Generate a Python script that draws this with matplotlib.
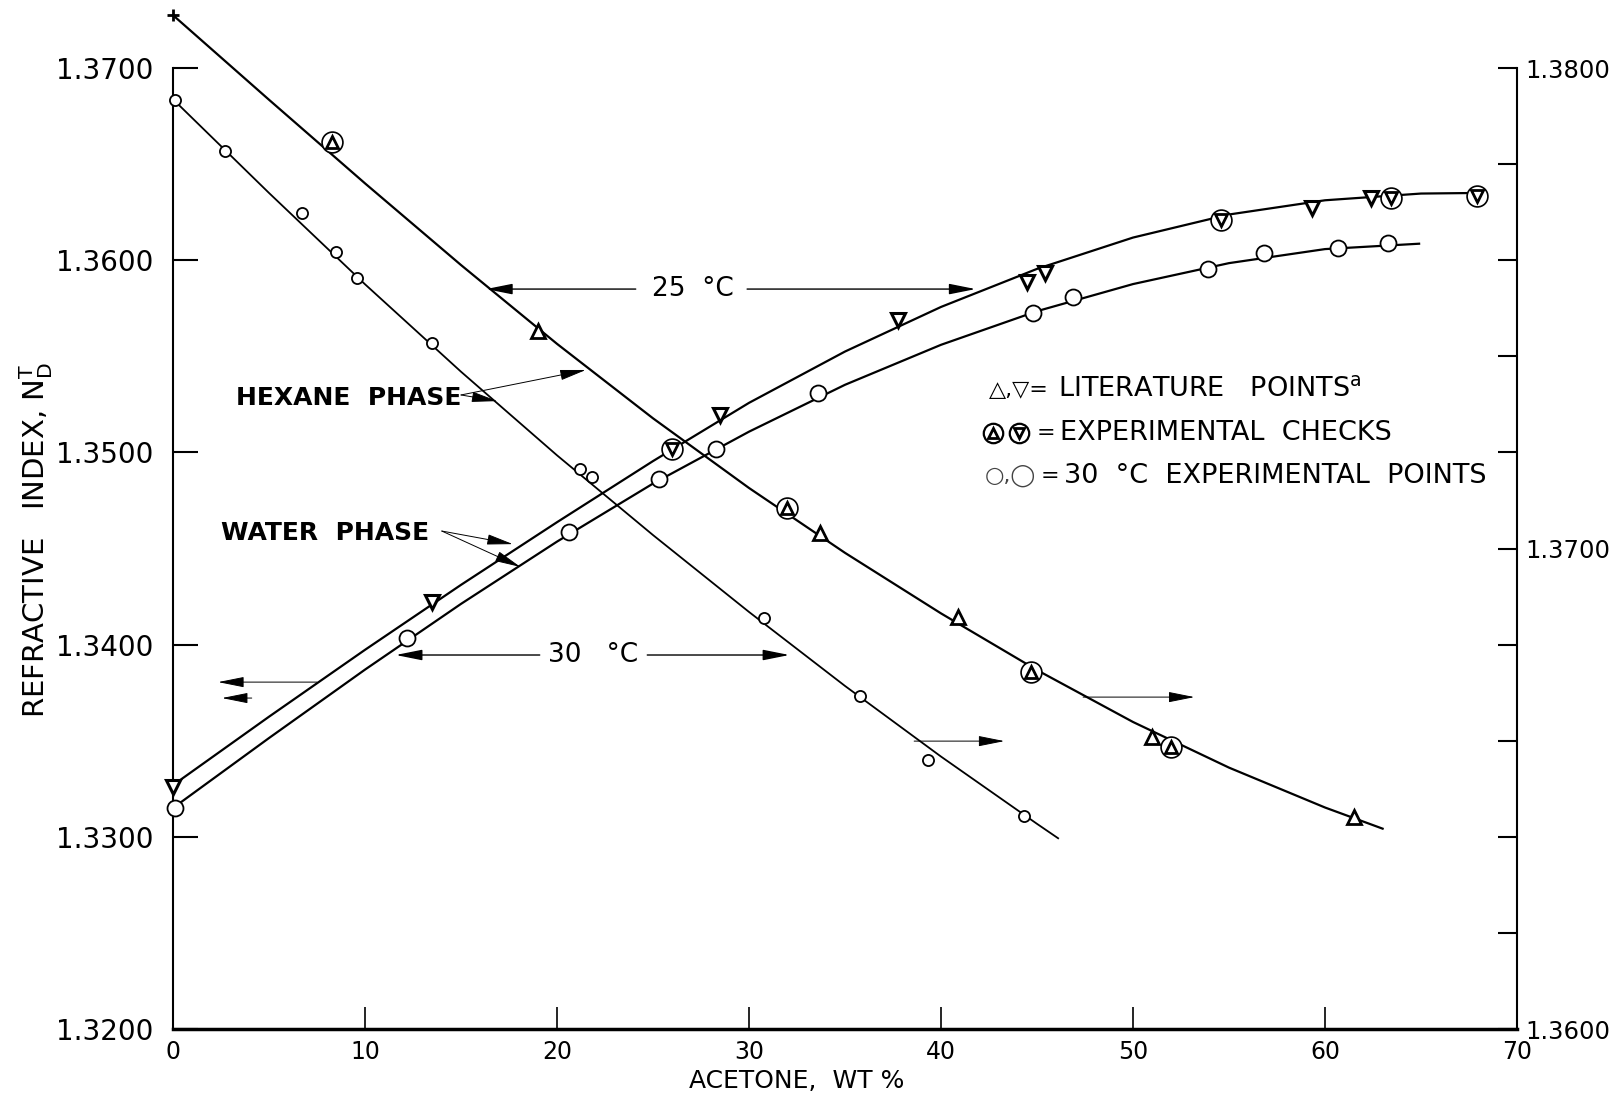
import matplotlib.pyplot as plt
from matplotlib.ticker import FormatStrFormatter, MultipleLocator

plt.rcParams['font.family'] = ['DejaVu Sans']

# Hexane phase, 25 C (right scale): smooth curve, literature points, checks
hex25_curve_x = [0, 5, 10, 15, 20, 25, 30, 35, 40, 45, 50, 55, 60, 63]
hex25_curve_n = [1.38110, 1.37934, 1.37760, 1.37590, 1.37426, 1.37271, 1.37126,
                 1.36991, 1.36865, 1.36747, 1.36639, 1.36544, 1.36461, 1.36417]
hex25_lit_x = [19.0, 33.7, 40.9, 51.0, 61.5]
hex25_lit_n = [1.37453, 1.37032, 1.36857, 1.36608, 1.36441]
hex25_chk_x = [8.3, 32.0, 44.7, 52.0]
hex25_chk_n = [1.37846, 1.37084, 1.36743, 1.36587]

# Hexane phase, 30 C (right scale)
hex30_curve_x = [0, 5, 10, 15, 20, 25, 30, 35, 40, 45, 46.1]
hex30_curve_n = [1.37935, 1.37740, 1.37550, 1.37368, 1.37194, 1.37028, 1.36868,
                 1.36714, 1.36567, 1.36427, 1.36397]
hex30_exp_x = [0.1, 2.7, 6.7, 8.5, 9.6, 13.5, 21.2, 21.8, 30.8, 35.8, 39.3, 44.3]
hex30_exp_n = [1.37933, 1.37827, 1.37698, 1.37617, 1.37563, 1.37428, 1.37165,
               1.37149, 1.36855, 1.36693, 1.36560, 1.36443]

# Water phase, 25 C (left scale)
wat25_curve_x = [0, 5, 10, 15, 20, 25, 30, 35, 40, 45, 50, 55, 60, 65, 67.9]
wat25_curve_n = [1.33269, 1.33625, 1.33973, 1.34311, 1.34637, 1.34955, 1.35258,
                 1.35525, 1.35757, 1.35955, 1.36118, 1.36238, 1.36312, 1.36347, 1.36350]
wat25_lit_x = [0, 13.5, 28.5, 37.75, 44.5, 45.4, 59.3, 62.4]
wat25_lit_n = [1.33259, 1.34222, 1.35195, 1.35689, 1.35887, 1.35933, 1.36272, 1.36324]
wat25_chk_x = [26.0, 54.6, 63.45, 67.9]
wat25_chk_n = [1.35018, 1.36209, 1.36324, 1.36334]

# Water phase, 30 C (left scale)
wat30_curve_x = [0, 5, 10, 15, 20, 25, 30, 35, 40, 45, 50, 55, 60, 64.9]
wat30_curve_n = [1.33150, 1.33514, 1.33870, 1.34212, 1.34536, 1.34838, 1.35108,
                 1.35352, 1.35560, 1.35735, 1.35876, 1.35985, 1.36058, 1.36086]
wat30_exp_x = [0.1, 12.2, 20.6, 25.3, 28.3, 33.6, 44.8, 46.9, 53.9, 56.8, 60.7, 63.3]
wat30_exp_n = [1.33150, 1.34034, 1.34586, 1.34862, 1.35018, 1.35309, 1.35725,
               1.35809, 1.35954, 1.36037, 1.36063, 1.36089]

left_ticks = [1.32, 1.33, 1.34, 1.35, 1.36, 1.37]
right_ticks = [1.36, 1.37, 1.38]
x_ticks = [0, 10, 20, 30, 40, 50, 60, 70]

fig = plt.figure(figsize=(16.23, 10.94), dpi=100)
ax = fig.add_axes([0.1066, 0.0594, 0.8281, 0.8784])
ax2 = ax.twinx()

ax.set_xlim(0, 70)
ax.set_ylim(1.32, 1.37)
ax2.set_ylim(1.36, 1.38)

line_kw = dict(color='black', lw=1.6, clip_on=False, zorder=2)
ax.plot(wat25_curve_x, wat25_curve_n, **line_kw)
ax.plot(wat30_curve_x, wat30_curve_n, **line_kw)
ax2.plot(hex25_curve_x, hex25_curve_n, **line_kw)
ax2.plot(hex30_curve_x, hex30_curve_n, color='black', lw=1.3, clip_on=False, zorder=2)
# small start mark at the top of the 25 C hexane curve
ax2.plot(hex25_curve_x[:1], hex25_curve_n[:1], marker='+', ms=9, mew=2,
         color='black', clip_on=False)

open_kw = dict(ls='none', mfc='white', mec='black', clip_on=False, zorder=3)
# literature points
ax2.plot(hex25_lit_x, hex25_lit_n, marker='^', ms=10, mew=2, **open_kw)
ax.plot(wat25_lit_x, wat25_lit_n, marker='v', ms=10, mew=2.2, **open_kw)
# experimental checks: triangle inside a circle
ax2.plot(hex25_chk_x, hex25_chk_n, marker='o', ms=15, mew=1.2, **open_kw)
ax2.plot(hex25_chk_x, hex25_chk_n, marker='^', ms=8, mew=2, **open_kw)
ax.plot(wat25_chk_x, wat25_chk_n, marker='o', ms=15, mew=1.2, **open_kw)
ax.plot(wat25_chk_x, wat25_chk_n, marker='v', ms=8, mew=2, **open_kw)
# 30 C experimental points
ax2.plot(hex30_exp_x, hex30_exp_n, marker='o', ms=8, mew=1.3, **open_kw)
ax.plot(wat30_exp_x, wat30_exp_n, marker='o', ms=11.5, mew=1.3, **open_kw)

# axes frame
for s in ['top', 'right']:
    ax.spines[s].set_visible(False)
for s in ['top', 'left', 'bottom']:
    ax2.spines[s].set_visible(False)
ax.spines['left'].set_linewidth(1.5)
ax.spines['bottom'].set_linewidth(2.5)
ax2.spines['right'].set_linewidth(1.5)

ax.set_xticks(x_ticks)
ax.set_yticks(left_ticks)
ax.yaxis.set_major_formatter(FormatStrFormatter('%.4f'))
ax.tick_params(axis='x', direction='in', length=16, width=1.2, pad=8, labelsize=17)
ax.tick_params(axis='y', direction='in', length=18, width=1.5, pad=14, labelsize=20)

ax2.set_yticks(right_ticks)
ax2.yaxis.set_minor_locator(MultipleLocator(0.002))
ax2.yaxis.set_major_formatter(FormatStrFormatter('%.4f'))
ax2.tick_params(axis='y', which='both', direction='in', length=14, width=1.5, pad=6, labelsize=17.5)

ax.set_xlabel('ACETONE,  WT %', fontsize=18)
ax.xaxis.set_label_coords(0.464, -0.042)
ax.set_ylabel(r'REFRACTIVE   INDEX, $\mathregular{N_D^T}$', fontsize=21)
ax.yaxis.set_label_coords(-0.088, 0.509)

arrow = dict(arrowstyle='-|>,head_length=0.9,head_width=0.18', color='black',
             lw=1.0, shrinkA=0, shrinkB=0, mutation_scale=18)
thin_arrow = dict(arrow, lw=0.7)

# temperature call-outs
ax.text(27.1, 1.3585, '25  \u00b0C', fontsize=19, ha='center', va='center')
ax.annotate('', xy=(16.3, 1.3585), xytext=(24.1, 1.3585), arrowprops=arrow)
ax.annotate('', xy=(41.8, 1.3585), xytext=(29.9, 1.3585), arrowprops=arrow)

ax.text(21.9, 1.33946, '30   \u00b0C', fontsize=19, ha='center', va='center')
ax.annotate('', xy=(11.6, 1.33946), xytext=(19.1, 1.33946), arrowprops=arrow)
ax.annotate('', xy=(32.1, 1.33946), xytext=(24.7, 1.33946), arrowprops=arrow)

# phase call-outs
ax.text(3.3, 1.35283, 'HEXANE  PHASE', fontsize=18, fontweight='bold', ha='left', va='center')
ax.annotate('', xy=(21.5, 1.35429), xytext=(15.0, 1.35299), arrowprops=thin_arrow)
ax.annotate('', xy=(16.9, 1.35267), xytext=(15.0, 1.35299), arrowprops=thin_arrow)

ax.text(2.5, 1.34581, 'WATER  PHASE', fontsize=18, fontweight='bold', ha='left', va='center')
ax.annotate('', xy=(17.7, 1.34523), xytext=(14.0, 1.34591), arrowprops=thin_arrow)
ax.annotate('', xy=(18.1, 1.34404), xytext=(14.0, 1.34591), arrowprops=thin_arrow)

# scale pointers: water curves read on the left, hexane curves on the right
ax.annotate('', xy=(2.35, 1.33805), xytext=(7.5, 1.33805), arrowprops=thin_arrow)
ax.annotate('', xy=(2.55, 1.33722), xytext=(4.1, 1.33722), arrowprops=thin_arrow)
ax.annotate('', xy=(43.3, 1.33498), xytext=(38.6, 1.33498), arrowprops=thin_arrow)
ax.annotate('', xy=(53.2, 1.33727), xytext=(47.4, 1.33727), arrowprops=thin_arrow)

# key
ax.text(42.5, 1.35325, '\u25b3,\u25bd=', fontsize=16, ha='left', va='center')
ax.text(46.1, 1.35325, r'LITERATURE   POINTS$^{\mathregular{a}}$', fontsize=19.5,
        ha='left', va='center')

key_kw = dict(ls='none', mfc='white', mec='black', zorder=3)
ax.plot([42.7, 44.06], [1.35101, 1.35101], marker='o', ms=14, mew=1.6, **key_kw)
ax.plot([42.7], [1.35101], marker='^', ms=7, mew=2, **key_kw)
ax.plot([44.06], [1.35101], marker='v', ms=7, mew=2, **key_kw)
ax.text(45.0, 1.35101, '=', fontsize=16, ha='left', va='center')
ax.text(46.2, 1.35101, 'EXPERIMENTAL  CHECKS', fontsize=19.5, ha='left', va='center')

ax.text(42.3, 1.34877, '\u25cb,\u25ef', fontsize=16, ha='left', va='center', color='#444444')
ax.text(45.2, 1.34877, '=', fontsize=16, ha='left', va='center')
ax.text(46.4, 1.34877, '30  \u00b0C  EXPERIMENTAL  POINTS', fontsize=19.5, ha='left', va='center')

fig.savefig('out.png', dpi=100, facecolor='white')
